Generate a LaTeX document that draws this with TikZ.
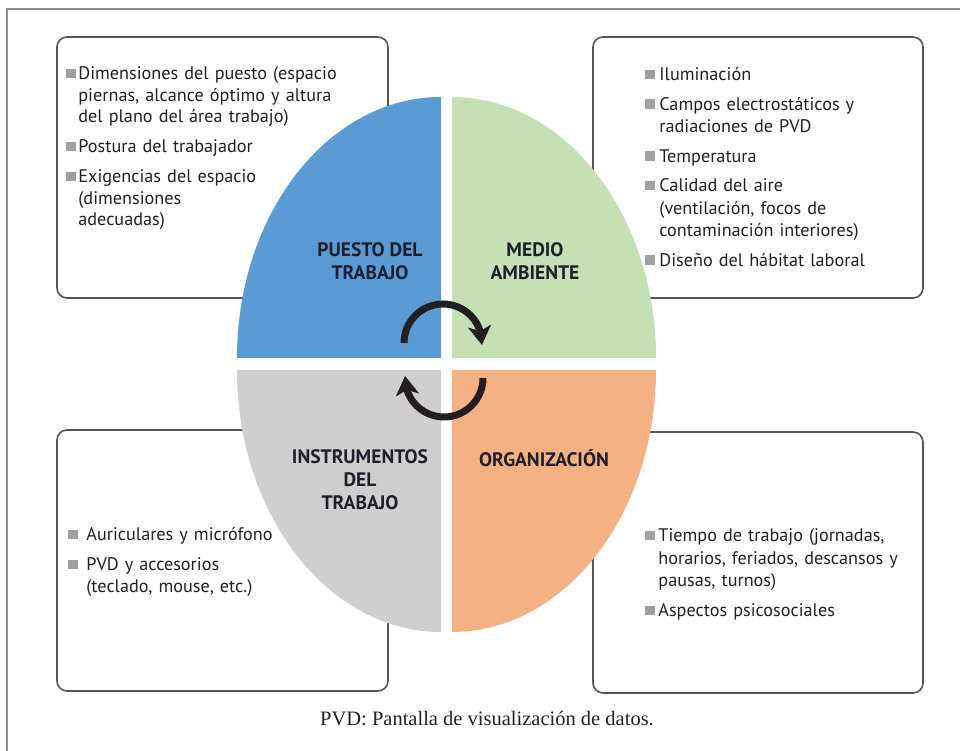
\documentclass[tikz,border=0pt]{standalone}
\usepackage{fontspec}
\setmainfont{PT Sans}
\newfontfamily\captionfont{Liberation Serif}
\usetikzlibrary{arrows.meta, bending, positioning}

\definecolor{puestoblue}{RGB}{91,155,213}
\definecolor{mediogreen}{RGB}{197,224,180}
\definecolor{instrgray}{RGB}{208,206,206}
\definecolor{orgorange}{RGB}{244,177,131}
\definecolor{bulletgray}{RGB}{160,160,160}
\definecolor{textdark}{RGB}{35,31,32}
\definecolor{labeldark}{RGB}{30,30,45}
\definecolor{boxgray}{RGB}{85,85,85}
\definecolor{framegray}{RGB}{140,140,140}

% one bullet item with hanging indent
\newcommand{\entry}[2][12pt]{\par\hangindent=#1\hangafter=1\noindent
  \makebox[#1][l]{\textcolor{bulletgray}{\rule[1.5pt]{9.5pt}{9.5pt}}}\strut#2\par}

\tikzset{
  infobox/.style={draw=boxgray, line width=1.6pt, rounded corners=10pt,
    fill=white, minimum height=261pt},
  itemlist/.style={anchor=north west, inner sep=0pt, text width=330pt,
    align=left, text=textdark, font=\fontsize{18.2}{21.5}\selectfont},
  quadlabel/.style={align=center, text=labeldark,
    font=\bfseries\fontsize{19.5}{23}\selectfont},
  cyclearrow/.style={line width=7pt, draw=textdark,
    -{Stealth[length=19pt, width=23pt, inset=5pt]}}
}

\begin{document}
\begin{tikzpicture}[x=1pt, y=1pt]
  \useasboundingbox (0,0) rectangle (960,751);
  \clip (0,0) rectangle (960,751);
  \draw[framegray, line width=1.6pt] (7,-20) rectangle (980,742);

  % the four boxes
  \node[infobox, minimum width=331pt] (puestobox) at (222.5,583.5) {};
  \node[infobox, minimum width=330pt] (mediobox) at (758,583.5) {};
  \node[infobox, minimum width=331pt] (instrbox) at (222.5,190.5) {};
  \node[infobox, minimum width=330pt] (orgbox) at (758,188.5) {};

  % the four quarters
  \fill[puestoblue] (441,393) -- (441,654)
    arc[start angle=90, end angle=180, x radius=204, y radius=261] -- cycle;
  \fill[mediogreen] (452,393) -- (452,654)
    arc[start angle=90, end angle=0, x radius=204, y radius=261] -- cycle;
  \fill[instrgray] (441,381) -- (441,119)
    arc[start angle=270, end angle=180, x radius=204, y radius=262] -- cycle;
  \fill[orgorange] (452,381) -- (452,119)
    arc[start angle=270, end angle=360, x radius=204, y radius=262] -- cycle;

  \node[quadlabel] (puesto) at (370,490) {PUESTO DEL\\TRABAJO};
  \node[quadlabel] (medio) at (535,490) {MEDIO\\AMBIENTE};
  \node[quadlabel] (instr) at (360,271) {INSTRUMENTOS\\DEL\\TRABAJO};
  \node[quadlabel] (org) at (544,293) {ORGANIZACIÓN};

  % circular arrows
  \coordinate (topstart) at (404,408);
  \coordinate (botstart) at (483,373);
  \draw[cyclearrow] (topstart) arc[start angle=180, end angle=-3, radius=39];
  \draw[cyclearrow] (botstart) arc[start angle=0, end angle=-183, radius=39];

  % texts of the boxes
  \node[itemlist, below right=13.5pt and 10pt of puestobox.north west,
    execute at begin node={\setlength{\parskip}{8.5pt}}] (puestotext) {%
    \entry{Dimensiones del puesto (espacio\newline piernas, alcance óptimo y altura\newline del plano del área trabajo)}
    \entry{Postura del trabajador}
    \entry{Exigencias del espacio\newline (dimensiones\newline adecuadas)}};
  \node[itemlist, below right=15pt and 53pt of mediobox.north west,
    font=\fontsize{18.2}{22.5}\selectfont,
    execute at begin node={\setlength{\parskip}{7pt}}] (mediotext) {%
    \entry[14pt]{Iluminación}
    \entry[14pt]{Campos electrostáticos y\newline radiaciones de PVD}
    \entry[14pt]{Temperatura}
    \entry[14pt]{Calidad del aire\newline (ventilación, focos de\newline contaminación interiores)}
    \entry[14pt]{Diseño del hábitat laboral}};
  \node[itemlist, below right=81.5pt and 12pt of instrbox.north west,
    execute at begin node={\setlength{\parskip}{8.5pt}}] (instrtext) {%
    \entry[18pt]{Auriculares y micrófono}
    \entry[18pt]{PVD y accesorios\newline (teclado, mouse, etc.)}};
  \node[itemlist, below right=80.5pt and 53pt of orgbox.north west,
    font=\fontsize{18.2}{22.5}\selectfont,
    execute at begin node={\setlength{\parskip}{7.5pt}}] (orgtext) {%
    \entry[13pt]{Tiempo de trabajo (jornadas,\newline horarios, feriados, descansos y\newline pausas, turnos)}
    \entry[13pt]{Aspectos psicosociales}};

  \node[text=textdark, font=\captionfont\fontsize{20.5}{22}\selectfont]
    (caption) at (487,32) {PVD: Pantalla de visualización de datos.};
\end{tikzpicture}
\end{document}
